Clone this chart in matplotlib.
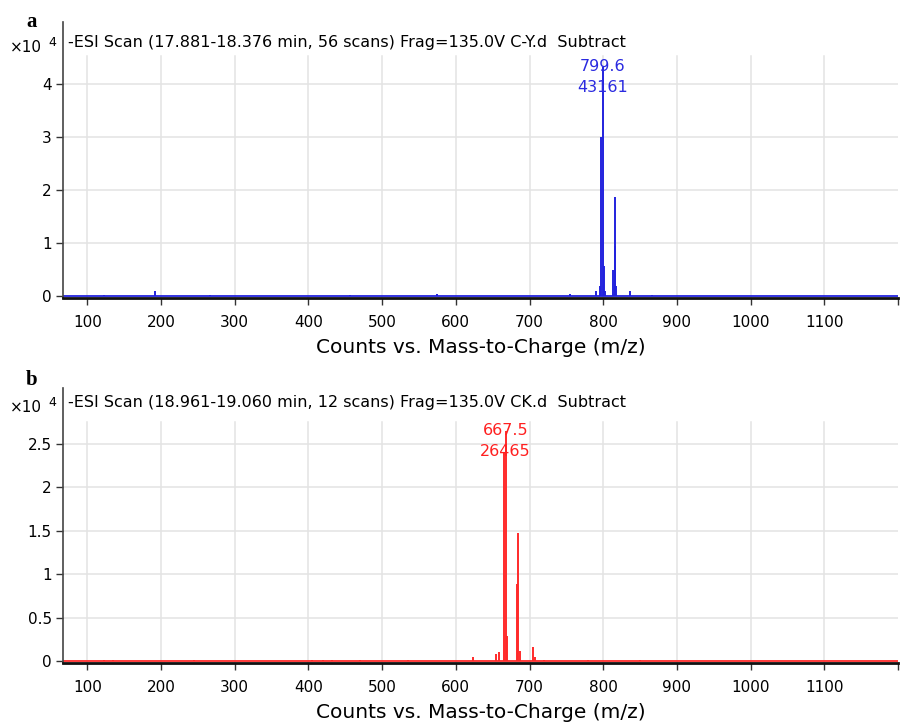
import matplotlib
matplotlib.use("Agg")
import matplotlib.pyplot as plt

plt.rcParams['font.family'] = ['DejaVu Sans']

# ---- data (m/z, counts x10^4) ----
mz_a = [122, 192.5, 266, 457, 575, 755, 790, 795, 797.6, 799.6, 801.6, 803,
        813.6, 815.6, 816.6, 818, 837, 866]
int_a = [0.02, 0.11, 0.03, 0.02, 0.04, 0.05, 0.11, 0.2, 3.0, 4.3161, 0.58, 0.1,
         0.5, 0.94, 1.86, 0.2, 0.1, 0.03]
mz_b = [122, 135, 200, 245, 340, 405, 420, 432, 470, 535, 624, 655, 658, 666,
        667.5, 669, 683.5, 684.5, 686.5, 705, 707, 720, 780, 850]
int_b = [0.02, 0.015, 0.01, 0.015, 0.01, 0.015, 0.02, 0.02, 0.015, 0.02, 0.05,
         0.08, 0.11, 2.4, 2.6465, 0.29, 0.89, 1.48, 0.12, 0.16, 0.05, 0.02, 0.02, 0.02]

titles = ["-ESI Scan (17.881-18.376 min, 56 scans) Frag=135.0V C-Y.d  Subtract",
          "-ESI Scan (18.961-19.060 min, 12 scans) Frag=135.0V CK.d  Subtract"]
peak_labels = [("799.6", "43161", 799.6, 4.3161), ("667.5", "26465", 667.5, 2.6465)]
xticks = [100, 200, 300, 400, 500, 600, 700, 800, 900, 1000, 1100, 1200]
xticklabels = ["100", "200", "300", "400", "500", "600", "700", "800", "900", "1000", "1100", ""]
yticks_a = [0, 1, 2, 3, 4]
yticklabels_a = ["0", "1", "2", "3", "4"]
yticks_b = [0, 0.5, 1, 1.5, 2, 2.5]
yticklabels_b = ["0", "0.5", "1", "1.5", "2", "2.5"]
panel_letters = ["a", "b"]
xlabel = "Counts vs. Mass-to-Charge (m/z)"

W, H = 907, 723
fig = plt.figure(figsize=(W / 100, H / 100), dpi=100)

def fx(px):
    return px / W

def fy(py):
    return 1 - py / H

panels = [
    dict(top=22, bottom=298, mz=mz_a, it=int_a, color="#2222dd", tcol="#2a2ae0",
         yt=yticks_a, ytl=yticklabels_a, ylim=(-0.03, 5.16), title_y=42,
         x10_y=47, letter_y=22),
    dict(top=388, bottom=663, mz=mz_b, it=int_b, color="#ff2a2a", tcol="#ff2020",
         yt=yticks_b, ytl=yticklabels_b, ylim=(-0.018, 3.14), title_y=402,
         x10_y=407, letter_y=380),
]
left, right = 63, 898

for i, p in enumerate(panels):
    ax = fig.add_axes([fx(left), fy(p['bottom']), fx(right - left), (p['bottom'] - p['top']) / H])
    ax.set_xlim(67, 1200)
    ax.set_ylim(*p['ylim'])
    gfrac = 0.877
    for xt in xticks[:-1]:
        ax.axvline(xt, ymin=0, ymax=gfrac, color="#e3e3e3", lw=1.1, zorder=0)
    for yt in p['yt'][1:]:
        ax.axhline(yt, color="#e3e3e3", lw=1.1, zorder=0)
    ax.axhline(0, color=p['color'], lw=1.3, zorder=2)
    ax.vlines(p['mz'], 0, p['it'], color=p['color'], lw=1.4, zorder=3)
    lab1, lab2, pmz, ph = peak_labels[i]
    ax.annotate(lab1, (pmz, ph), xytext=(0, 0), textcoords="offset points",
                ha="center", va="center", color=p['tcol'], fontsize=11.5, zorder=5)
    ax.annotate(lab2, (pmz, ph), xytext=(0, -14.5), textcoords="offset points",
                ha="center", va="center", color=p['tcol'], fontsize=11.5, zorder=5)
    ax.set_xticks(xticks)
    ax.set_xticklabels(xticklabels, fontsize=11)
    ax.set_yticks(p['yt'])
    ax.set_yticklabels(p['ytl'], fontsize=11)
    ax.tick_params(axis='both', direction='out', length=5, width=1, color="#333333", pad=3)
    ax.tick_params(axis='x', pad=7)
    for s in ['top', 'right']:
        ax.spines[s].set_visible(False)
    ax.spines['left'].set_color("#444444")
    ax.spines['left'].set_linewidth(1.2)
    ax.spines['bottom'].set_color("#111111")
    ax.spines['bottom'].set_linewidth(2.0)
    ax.set_xlabel(xlabel, fontsize=14.5, labelpad=6)
    fig.text(fx(68), fy(p['title_y']), titles[i], fontsize=11.5, ha="left", va="center")
    fig.text(fx(42), fy(p['x10_y']), "\u00d710", fontsize=11, ha="right", va="center")
    fig.text(fx(48), fy(p['title_y']), "4", fontsize=9, ha="left", va="center")
    fig.text(fx(32), fy(p['letter_y']), panel_letters[i], fontsize=15, fontweight="bold",
             family="Liberation Serif", ha="center", va="center")

fig.savefig("out.png", dpi=100)
